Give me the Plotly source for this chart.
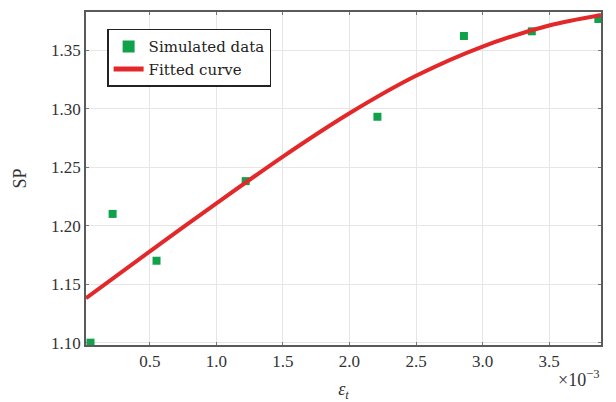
import plotly.graph_objects as go

# Simulated data (x in units of 1e-3)
sim_x = [0.054, 0.22, 0.55, 1.22, 2.21, 2.86, 3.37, 3.87]
sim_y = [1.100, 1.210, 1.170, 1.238, 1.293, 1.362, 1.366, 1.3765]

# Fitted curve
fit_x = [0.02, 0.5, 1.0, 1.5, 2.0, 2.5, 3.0, 3.5, 3.89]
fit_y = [1.138, 1.178, 1.219, 1.259, 1.296, 1.328, 1.353, 1.371, 1.380]

x_ticks = [0.5, 1.0, 1.5, 2.0, 2.5, 3.0, 3.5]
y_ticks = [1.10, 1.15, 1.20, 1.25, 1.30, 1.35]

FONT = "Liberation Serif"
LFONT = "DejaVu Serif"

fig = go.Figure()
fig.add_trace(go.Scatter(
    x=sim_x, y=sim_y, mode="markers", name="Simulated data",
    marker=dict(symbol="square", size=8, color="#10a24a"),
    cliponaxis=False,
))
fig.add_trace(go.Scatter(
    x=fit_x, y=fit_y, mode="lines", name="Fitted curve",
    line=dict(color="#e3282a", width=4, shape="spline", smoothing=0.8),
))

axis_common = dict(
    showline=True, linecolor="#5a5a5a", linewidth=1.5, mirror="ticks",
    ticks="inside", ticklen=3, tickcolor="#777",
    showgrid=True, gridcolor="#e6e6e6", gridwidth=1,
    zeroline=False, automargin=False,
    tickfont=dict(family=FONT, size=17, color="#333"),
)

fig.update_xaxes(
    range=[0.02, 3.89], tickvals=x_ticks,
    ticktext=[f"{v:.1f}" for v in x_ticks],
    title=dict(text="<i>ε<sub>t</sub></i>", font=dict(family=FONT, size=18, color="#333"), standoff=18),
    **axis_common,
)
fig.update_yaxes(
    range=[1.098, 1.3825], tickvals=y_ticks,
    ticktext=[f"{v:.2f}" for v in y_ticks],
    title=dict(text="SP", font=dict(family=FONT, size=18, color="#333"), standoff=20),
    **axis_common,
)

fig.add_annotation(
    xref="paper", yref="paper", x=0.912, y=-0.1,
    xanchor="left", yanchor="middle", showarrow=False,
    text="×10<sup>−3</sup>", font=dict(family=FONT, size=18, color="#333"),
)

fig.update_layout(
    width=616, height=402,
    margin=dict(l=86, r=15, t=12, b=57),
    paper_bgcolor="white", plot_bgcolor="white",
    showlegend=True,
    legend=dict(
        x=0.041, y=0.95, xanchor="left", yanchor="top",
        bgcolor="white", bordercolor="#222", borderwidth=1.5,
        font=dict(family=LFONT, size=15, color="#222"),
        tracegroupgap=0, itemsizing="constant",
    ),
)

fig.write_html("out.html")
